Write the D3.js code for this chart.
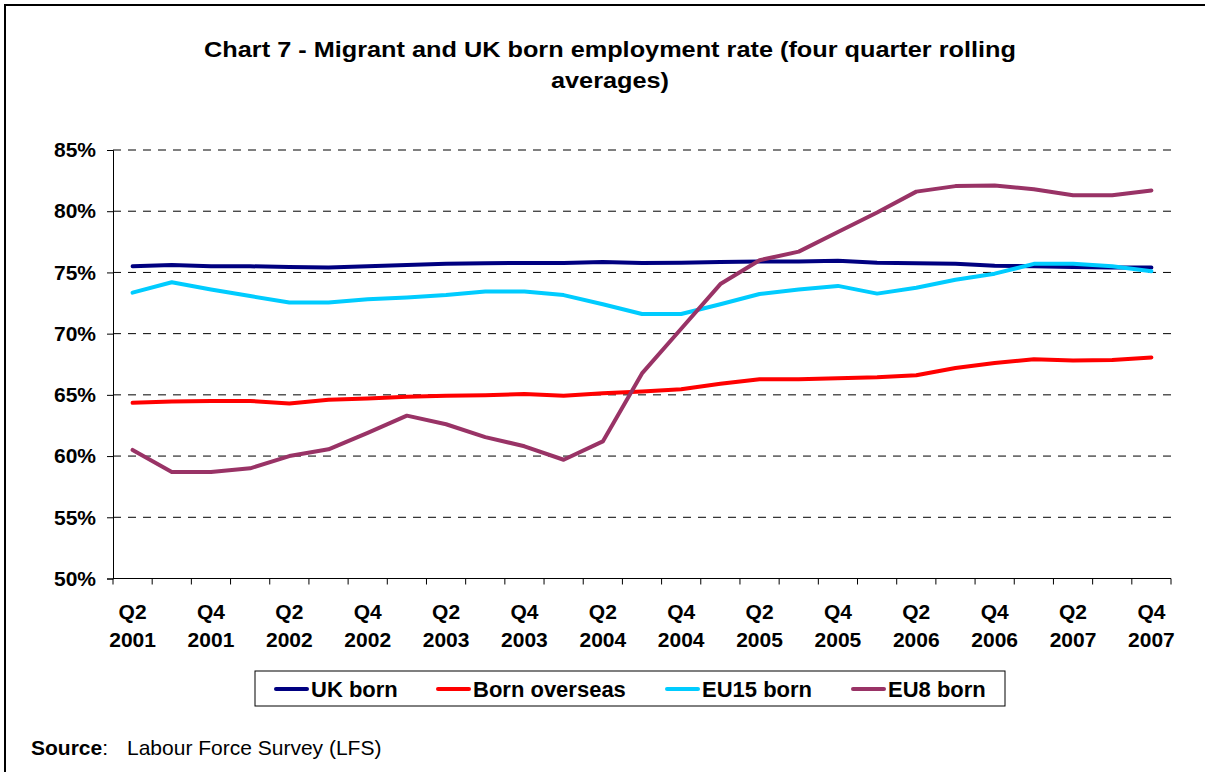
<!DOCTYPE html>
<html>
<head>
<meta charset="utf-8">
<script src="https://cdn.jsdelivr.net/npm/d3@7"></script>
<style>
  html, body { margin: 0; padding: 0; background: #fff; }
  svg { display: block; font-family: Arial, "Liberation Sans", sans-serif; }
</style>
</head>
<body>
<svg id="chart" width="1205" height="772"></svg>
<script>
// Quarters from Q2 2001 to Q4 2007
const quarters = [
  "Q2 2001","Q3 2001","Q4 2001","Q1 2002","Q2 2002","Q3 2002","Q4 2002",
  "Q1 2003","Q2 2003","Q3 2003","Q4 2003","Q1 2004","Q2 2004","Q3 2004",
  "Q4 2004","Q1 2005","Q2 2005","Q3 2005","Q4 2005","Q1 2006","Q2 2006",
  "Q3 2006","Q4 2006","Q1 2007","Q2 2007","Q3 2007","Q4 2007"
];

// Employment rates (%), four quarter rolling averages
const ukBorn = [75.5, 75.6, 75.5, 75.5, 75.45, 75.4, 75.5, 75.6, 75.7, 75.75, 75.77, 75.77, 75.85, 75.77,
                75.8, 75.85, 75.9, 75.9, 75.96, 75.8, 75.74, 75.7, 75.55, 75.5, 75.45, 75.4, 75.4];
const bornOverseas = [64.35, 64.46, 64.5, 64.5, 64.3, 64.6, 64.7, 64.85, 64.92, 64.97, 65.06, 64.92, 65.13, 65.27,
                      65.46, 65.9, 66.27, 66.27, 66.35, 66.43, 66.6, 67.2, 67.6, 67.9, 67.8, 67.85, 68.05];
const eu15Born = [73.35, 74.2, 73.6, 73.07, 72.55, 72.55, 72.8, 72.96, 73.15, 73.45, 73.45, 73.15, 72.4, 71.6,
                  71.6, 72.4, 73.24, 73.6, 73.9, 73.27, 73.75, 74.4, 74.9, 75.7, 75.7, 75.5, 75.1];
const eu8Born = [60.5, 58.7, 58.7, 59.0, 60.0, 60.55, 61.9, 63.3, 62.6, 61.55, 60.8, 59.7, 61.2, 66.75,
                 70.4, 74.05, 76.0, 76.7, 78.3, 79.9, 81.6, 82.05, 82.1, 81.8, 81.3, 81.3, 81.7];

const seriesNames = ["UK born", "Born overseas", "EU15 born", "EU8 born"];
const seriesColors = ["#000080", "#FF0000", "#00CCFF", "#993366"];
const seriesValues = [ukBorn, bornOverseas, eu15Born, eu8Born];

const yTicks = [50, 55, 60, 65, 70, 75, 80, 85];

const titleLines = ["Chart 7 - Migrant and UK born employment rate (four quarter rolling", "averages)"];

const svg = d3.select("#chart");

// Outer frame
svg.append("rect")
  .attr("x", 5).attr("y", 5)
  .attr("width", 1220).attr("height", 790)
  .attr("fill", "none").attr("stroke", "#000").attr("stroke-width", 2);

const plot = { left: 113, right: 1171, top: 150, bottom: 578.5 };

const x = d3.scaleBand().domain(quarters).range([plot.left, plot.right]).padding(0);
const y = d3.scaleLinear().domain([50, 85]).range([plot.bottom, plot.top]);

// Title (slightly wide lettering)
svg.append("g").selectAll("text").data(titleLines).join("text")
  .attr("transform", (d, i) => `translate(610,${57 + i * 31}) scale(1.15,1)`)
  .attr("text-anchor", "middle")
  .attr("font-size", 22).attr("font-weight", "bold")
  .text(d => d);

// Gridlines
svg.append("g").selectAll("line").data(yTicks.filter(v => v > 50)).join("line")
  .attr("x1", plot.left).attr("x2", plot.right)
  .attr("y1", d => y(d)).attr("y2", d => y(d))
  .attr("stroke", "#000").attr("stroke-width", 1)
  .attr("stroke-dasharray", "8,7");

// Y axis
const yAxis = d3.axisLeft(y).tickValues(yTicks).tickSize(6).tickFormat(d => d + "%");
const gy = svg.append("g").attr("transform", `translate(${plot.left},0)`).call(yAxis);
gy.select(".domain").attr("stroke", "#000");
gy.selectAll(".tick line").attr("stroke", "#000");
gy.selectAll(".tick text")
  .attr("x", -17)
  .attr("font-size", 21).attr("font-weight", "bold")
  .attr("font-family", "Arial, 'Liberation Sans', sans-serif")
  .attr("fill", "#000");

// X axis line and tick marks at band boundaries
const gx = svg.append("g");
gx.append("line")
  .attr("x1", plot.left).attr("x2", plot.right)
  .attr("y1", plot.bottom).attr("y2", plot.bottom)
  .attr("stroke", "#000");
const boundaries = quarters.map(q => x(q)).concat([plot.right]);
gx.selectAll("line.tick").data(boundaries).join("line")
  .attr("class", "tick")
  .attr("x1", d => d).attr("x2", d => d)
  .attr("y1", plot.bottom).attr("y2", plot.bottom + 6)
  .attr("stroke", "#000");

// X labels for every second quarter
const labelled = quarters.filter((q, i) => i % 2 === 0);
const xl = gx.selectAll("text").data(labelled).join("text")
  .attr("text-anchor", "middle")
  .attr("font-size", 21).attr("font-weight", "bold");
xl.append("tspan")
  .attr("x", d => x(d) + x.bandwidth() / 2).attr("y", 619)
  .text(d => d.split(" ")[0]);
xl.append("tspan")
  .attr("x", d => x(d) + x.bandwidth() / 2).attr("y", 647)
  .text(d => d.split(" ")[1]);

// Series lines
const line = d3.line()
  .x((d, i) => x(quarters[i]) + x.bandwidth() / 2)
  .y(d => y(d));
svg.append("g").selectAll("path").data(seriesValues).join("path")
  .attr("d", d => line(d))
  .attr("fill", "none")
  .attr("stroke", (d, i) => seriesColors[i])
  .attr("stroke-width", 4)
  .attr("stroke-linejoin", "round")
  .attr("stroke-linecap", "round");

// Legend
const legend = svg.append("g");
legend.append("rect")
  .attr("x", 255).attr("y", 671)
  .attr("width", 750).attr("height", 35)
  .attr("fill", "#fff").attr("stroke", "#000").attr("stroke-width", 1);
const legendX = [276, 438, 667, 853];
const items = legend.selectAll("g.item").data(seriesNames).join("g")
  .attr("class", "item")
  .attr("transform", (d, i) => `translate(${legendX[i]},689)`);
items.append("line")
  .attr("x1", 0).attr("x2", 31).attr("y1", 0).attr("y2", 0)
  .attr("stroke", (d, i) => seriesColors[i])
  .attr("stroke-width", 4).attr("stroke-linecap", "round");
items.append("text")
  .attr("x", 35).attr("y", 8)
  .attr("font-size", 22).attr("font-weight", "bold")
  .text(d => d);

// Source note
const src = svg.append("text").attr("x", 31).attr("y", 755).attr("font-size", 21);
src.append("tspan").attr("font-weight", "bold").text("Source");
src.append("tspan").text(":");
src.append("tspan").attr("x", 127).text("Labour Force Survey (LFS)");
</script>
</body>
</html>
